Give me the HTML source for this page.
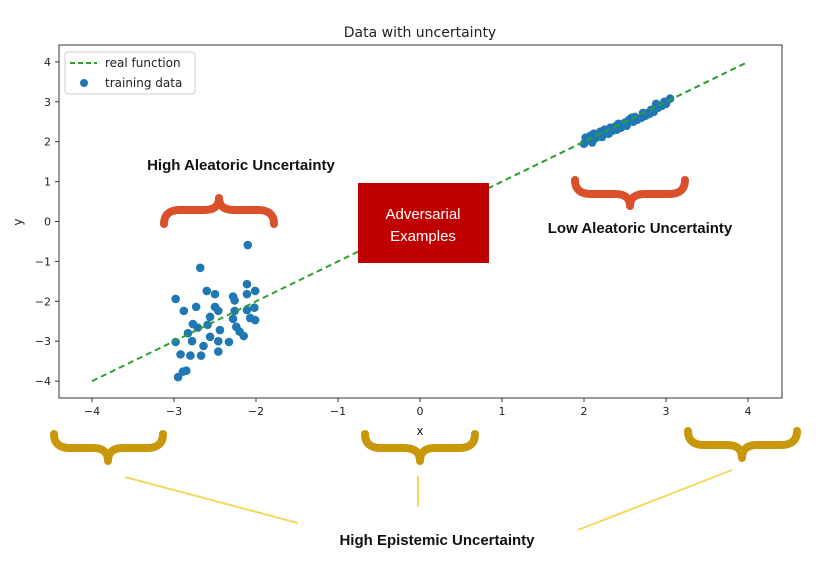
<!DOCTYPE html>
<html><head><meta charset="utf-8"><style>
body{margin:0;background:#fff;width:819px;height:562px;overflow:hidden}
svg{display:block;font-family:"DejaVu Sans","Liberation Sans",sans-serif}
</style></head><body>
<svg id="chart" width="819" height="562">
<text x="420" y="37" text-anchor="middle" font-size="14" fill="#222">Data with uncertainty</text>
<g id="plot"></g>
<g>
<rect x="65" y="52" width="130" height="42" rx="3" fill="#fff" stroke="#ccc"/>
<line x1="70" y1="63" x2="97" y2="63" stroke="#2ca02c" stroke-width="2" stroke-dasharray="5,3"/>
<text x="105" y="67" font-size="12" fill="#222">real function</text>
<circle cx="84" cy="83" r="4" fill="#1f77b4"/>
<text x="105" y="87" font-size="12" fill="#222">training data</text>
</g>
<text x="241" y="170" text-anchor="middle" font-size="15" font-weight="bold" font-family="Liberation Sans,sans-serif" fill="#111">High Aleatoric Uncertainty</text>
<text x="640" y="233" text-anchor="middle" font-size="15" font-weight="bold" font-family="Liberation Sans,sans-serif" fill="#111">Low Aleatoric Uncertainty</text>
<rect x="358" y="183" width="131" height="80" fill="#c00000"/>
<text x="423" y="219" text-anchor="middle" font-size="15" font-family="Liberation Sans,sans-serif" fill="#fff">Adversarial</text>
<text x="423" y="241" text-anchor="middle" font-size="15" font-family="Liberation Sans,sans-serif" fill="#fff">Examples</text>
<g fill="none" stroke="#d9502b" stroke-width="8" stroke-linecap="round" stroke-linejoin="round">
<path d="M164,224 Q164,210 180,210 L204,210 Q219,210 219,198 Q219,210 234,210 L258,210 Q274,210 274,224"/>
<path d="M575,180 Q575,194 591,194 L615,194 Q630,194 630,206 Q630,194 645,194 L669,194 Q685,194 685,180"/>
</g>
<g fill="none" stroke="#c8980a" stroke-width="8" stroke-linecap="round" stroke-linejoin="round">
<path d="M54,434 Q54,448 70,448 L93,448 Q108,448 108,461 Q108,448 123,448 L147,448 Q163,448 163,434"/>
<path d="M365,434 Q365,448 381,448 L404,448 Q420,448 420,461 Q420,448 435,448 L459,448 Q475,448 475,434"/>
<path d="M688,431 Q688,445 704,445 L727,445 Q742,445 742,458 Q742,445 757,445 L781,445 Q797,445 797,431"/>
</g>
<g stroke="#f5d860" stroke-width="2">
<line x1="125" y1="477" x2="298" y2="523"/>
<line x1="418" y1="476" x2="418" y2="507"/>
<line x1="732" y1="470" x2="578" y2="530"/>
</g>
<text x="437" y="545" text-anchor="middle" font-size="15" font-weight="bold" font-family="Liberation Sans,sans-serif" fill="#111">High Epistemic Uncertainty</text>
</svg>
<script>
const xTicks=[-4,-3,-2,-1,0,1,2,3,4];
const yTicks=[-4,-3,-2,-1,0,1,2,3,4];
const lineX=[-4,4];
const lineY=[-4,4];
const leftX=[-2.10,-2.68,-2.98,-2.88,-2.73,-2.60,-2.50,-2.50,-2.46,-2.28,-2.26,-2.11,-2.11,-2.01,-2.02,-2.11,-2.26,-2.28,-2.24,-2.07,-2.01,-2.20,-2.15,-2.33,-2.46,-2.44,-2.56,-2.59,-2.56,-2.77,-2.71,-2.83,-2.98,-2.78,-2.64,-2.67,-2.46,-2.92,-2.80,-2.85,-2.89,-2.95];
const leftY=[-0.59,-1.16,-1.94,-2.24,-2.14,-1.74,-1.82,-2.14,-2.24,-1.88,-1.98,-1.57,-1.82,-1.74,-2.16,-2.22,-2.24,-2.44,-2.64,-2.42,-2.47,-2.76,-2.87,-3.02,-3.00,-2.72,-2.89,-2.59,-2.39,-2.57,-2.66,-2.80,-3.02,-3.00,-3.12,-3.36,-3.26,-3.33,-3.36,-3.74,-3.76,-3.90];
const rightX=[2.0,2.02,2.05,2.08,2.1,2.12,2.15,2.2,2.22,2.25,2.3,2.32,2.35,2.4,2.42,2.45,2.5,2.52,2.55,2.6,2.62,2.65,2.7,2.72,2.75,2.8,2.82,2.85,2.88,2.9,2.95,2.98,3.0,3.05,2.03,2.18,2.38,2.58,2.78];
const rightY=[1.95,2.1,2.05,2.15,1.98,2.2,2.1,2.25,2.12,2.3,2.2,2.35,2.28,2.3,2.45,2.35,2.48,2.4,2.55,2.5,2.62,2.55,2.6,2.72,2.65,2.7,2.8,2.75,2.95,2.85,2.9,3.0,2.95,3.08,2.05,2.18,2.38,2.6,2.72];
const L=59,R=782,T=45,B=398;
const sx=v=>420+v*82, sy=v=>221.5-v*39.9;
const NS="http://www.w3.org/2000/svg";
const g=document.getElementById('plot');
function mk(t,a){const e=document.createElementNS(NS,t);for(const k in a)e.setAttribute(k,a[k]);g.appendChild(e);return e;}
let fr=mk('rect',{x:L,y:T,width:R-L,height:B-T,fill:'#fff',stroke:'#333','stroke-width':1});


xTicks.forEach(v=>{
 let l=mk('line',{x1:sx(v),x2:sx(v),y1:B,y2:B+4,stroke:'#333'});
 
 
 let t=mk('text',{x:sx(v),y:B+17,'text-anchor':'middle','font-size':11,fill:'#222'});t.textContent=v<0?'\u2212'+(-v):v;
 
 
});
yTicks.forEach(v=>{
 let l=mk('line',{x1:L-4,x2:L,y1:sy(v),y2:sy(v),stroke:'#333'});
 
 
 let t=mk('text',{x:L-8,y:sy(v)+4,'text-anchor':'end','font-size':11,fill:'#222'});t.textContent=v<0?'\u2212'+(-v):v;
 
 
});
let xl=mk('text',{x:420,y:435,'text-anchor':'middle','font-size':12,fill:'#222'});xl.textContent='x';


let yl=mk('text',{x:22,y:222,'text-anchor':'middle','font-size':12,fill:'#222',transform:'rotate(-90 22 222)'});yl.textContent='y';


function dots(xs,ys,name){xs.forEach((x,i)=>{let c=mk('circle',{cx:sx(x),cy:sy(ys[i]),r:4.3,fill:'#1f77b4'});
 
 });}
dots(leftX,leftY,'training-point-left');
dots(rightX,rightY,'training-point-right');
let rl=mk('line',{x1:sx(lineX[0]),y1:sy(lineY[0]),x2:sx(lineX[1]),y2:sy(lineY[1]),stroke:'#2ca02c','stroke-width':2,'stroke-dasharray':'6,4'});


</script>
</body></html>
